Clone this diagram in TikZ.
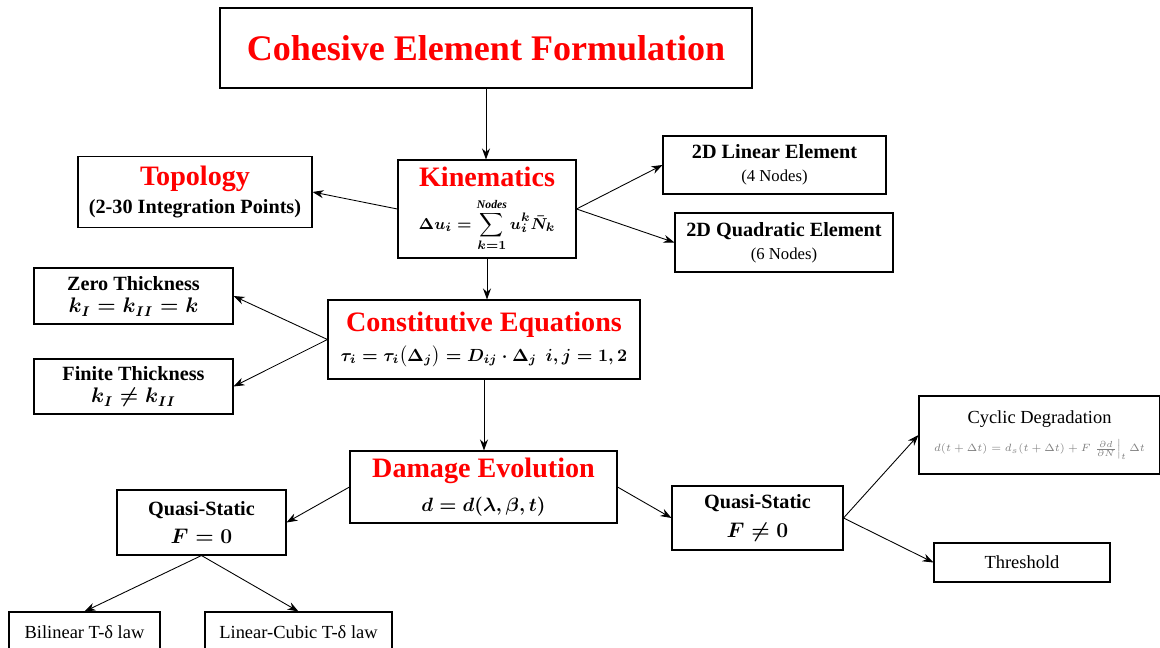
\documentclass[tikz,border=0pt]{standalone}
\usepackage{amsmath,amssymb}
\usepackage{fontspec}
\setmainfont{Liberation Serif}
\usepackage{xcolor}
\usepackage{tikz}
\usetikzlibrary{positioning, calc, arrows.meta}

\newcommand{\redhead}[1]{{\fontsize{16}{19}\selectfont\bfseries\color{red}#1}}

\begin{document}
\begin{tikzpicture}[
        % Style for every framed box
        box/.style={
            draw,
            rectangle,
            line width=0.6pt,
            align=center,
            inner sep=2pt,
            font=\fontsize{11.5}{13}\selectfont
        },
        % Style for the boxes whose formulas are set bold
        mainbox/.style={
            box,
            font=\fontsize{11.5}{13}\selectfont\boldmath
        },
        % Style for the plain leaf boxes
        leafbox/.style={
            box,
            font=\fontsize{10.5}{13}\selectfont
        },
        % Style for the connectors
        flow_arrow/.style={
            -{Stealth[length=2.2mm, width=1.6mm]},
            line width=0.5pt
        }
    ]

    \useasboundingbox (0,0) rectangle (23.2,-12.96);

    % ==========================================
    % MAIN COLUMN
    % ==========================================
    \node[box, minimum width=10.64cm, minimum height=1.6cm, text=red,
          font=\fontsize{20.5}{24}\selectfont\bfseries] (title) at (9.72,-0.96)
        {Cohesive Element Formulation};

    \node[mainbox, minimum width=3.56cm, minimum height=1.96cm] (kin) at (9.74,-4.18)
        {\redhead{Kinematics}\\[6pt]
         {\fontsize{9.5}{12}\selectfont $\displaystyle \Delta u_i = \sum_{k=1}^{\mathit{Nodes}} u_i^k \bar{N}_k$}};

    \node[mainbox, minimum width=6.24cm, minimum height=1.58cm] (const) at (9.68,-6.79)
        {\redhead{Constitutive Equations}\\[4pt]
         {\fontsize{10}{12}\selectfont $\tau_i = \tau_i\big(\Delta_j\big) = D_{ij}\cdot\Delta_j \enspace i,j = 1,2$}};

    \node[mainbox, minimum width=5.34cm, minimum height=1.44cm] (damage) at (9.67,-9.74)
        {\redhead{Damage Evolution}\\[6pt]
         {\fontsize{11}{13}\selectfont $d = d(\lambda,\beta,t)$}};

    % ==========================================
    % SIDE BOXES
    % ==========================================
    \node[mainbox, minimum width=4.68cm, minimum height=1.42cm] (topo) at (3.9,-3.84)
        {\redhead{Topology}\\[3pt] {\bfseries (2-30 Integration Points)}};

    \node[box, minimum width=4.46cm, minimum height=1.16cm] (lin) at (15.49,-3.3)
        {{\bfseries 2D Linear Element}\\ {\fontsize{9.5}{11}\selectfont (4 Nodes)}};
    \node[box, minimum width=4.36cm, minimum height=1.18cm] (quad) at (15.68,-4.85)
        {{\bfseries 2D Quadratic Element}\\ {\fontsize{9.5}{11}\selectfont (6 Nodes)}};

    \node[mainbox, minimum width=3.98cm, minimum height=1.12cm] (zero) at (2.67,-5.92)
        {{\bfseries Zero Thickness}\\ $k_I = k_{II} = k$};
    \node[mainbox, minimum width=3.98cm, minimum height=1.1cm] (finite) at (2.67,-7.73)
        {{\bfseries Finite Thickness}\\ $k_I \neq k_{II}$};

    \node[mainbox, minimum width=3.38cm, minimum height=1.3cm] (qsnone) at (4.03,-10.45)
        {{\bfseries Quasi-Static}\\[3pt] {\fontsize{13}{15}\selectfont $F = 0$}};
    \node[mainbox, minimum width=3.42cm, minimum height=1.28cm] (qsload) at (15.15,-10.36)
        {{\bfseries Quasi-Static}\\[3pt] {\fontsize{13}{15}\selectfont $F \neq 0$}};

    % ==========================================
    % LEAF BOXES
    % ==========================================
    \node[leafbox, minimum width=4.82cm, minimum height=1.56cm] (cyclic) at (20.79,-8.7)
        {Cyclic Degradation\\[3pt]
         {\color{gray}\fontsize{6}{8}\selectfont $d(t+\Delta t) = d_s(t+\Delta t) + F\left.\frac{\partial d}{\partial N}\right|_t \Delta t$}};
    \node[leafbox, minimum width=3.52cm, minimum height=0.78cm] (thresh) at (20.44,-11.25)
        {Threshold};
    \node[leafbox, minimum width=3.02cm, minimum height=0.8cm] (bilin) at (1.69,-12.64)
        {Bilinear T-δ law};
    \node[leafbox, minimum width=3.74cm, minimum height=0.8cm] (lincub) at (5.97,-12.64)
        {Linear-Cubic T-δ law};

    % ==========================================
    % CONNECTORS
    % ==========================================
    \draw[flow_arrow] (title.south) -- (title.south |- kin.north);
    \draw[flow_arrow] (kin.south) -- (kin.south |- const.north);
    \draw[flow_arrow] (const.south) -- (const.south |- damage.north);

    \draw[flow_arrow] (kin.west) -- (topo.east);
    \draw[flow_arrow] (kin.east) -- (lin.west);
    \draw[flow_arrow] (kin.east) -- (quad.west);

    \draw[flow_arrow] (const.west) -- (zero.east);
    \draw[flow_arrow] (const.west) -- (finite.east);

    \draw[flow_arrow] (damage.west) -- (qsnone.east);
    \draw[flow_arrow] (damage.east) -- (qsload.west);

    \draw[flow_arrow] (qsnone.south) -- (bilin.north);
    \draw[flow_arrow] (qsnone.south) -- (lincub.north);
    \draw[flow_arrow] (qsload.east) -- (cyclic.west);
    \draw[flow_arrow] (qsload.east) -- (thresh.west);
\end{tikzpicture}
\end{document}
